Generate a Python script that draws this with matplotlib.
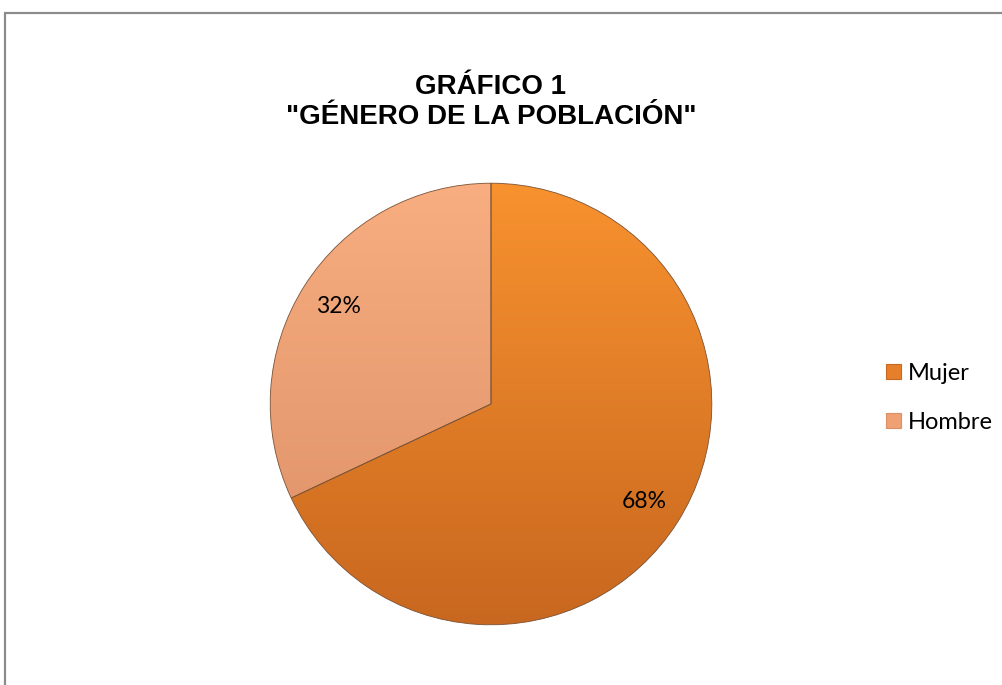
import numpy as np
import matplotlib
matplotlib.use("Agg")
import matplotlib.pyplot as plt
from matplotlib.patches import Rectangle, Patch
from matplotlib.colors import LinearSegmentedColormap

# data
labels = ["Mujer", "Hombre"]
values = [68, 32]
top_colors = ["#F8922F", "#F8AE80"]
bottom_colors = ["#C8671F", "#DC8E66"]
mid_colors = ["#E57F2A", "#EFA173"]

title = 'GRÁFICO 1\n"GÉNERO DE LA POBLACIÓN"'

fig = plt.figure(figsize=(10.03, 6.85), dpi=100)
fig.patch.set_facecolor("white")

# outer frame (continues past right/bottom edge)
fig.add_artist(Rectangle((5 / 1003, -0.05), 1.2, 1 - 13 / 685 + 0.05,
                         transform=fig.transFigure, fill=False,
                         edgecolor="#8c8c8c", lw=1.6))

ax = fig.add_axes([(491 - 223) / 1003, (685 - 627) / 685, 446 / 1003, 446 / 685])
wedges, texts, autotexts = ax.pie(
    values, startangle=90, counterclock=False, colors=mid_colors,
    autopct="%1.0f%%", pctdistance=0.82, radius=1.0,
    wedgeprops=dict(edgecolor="#7a5236", linewidth=0.6),
    textprops=dict(fontsize=16.5, family="Lato", color="black"))

# vertical shading inside each wedge
for w, c_top, c_bot in zip(wedges, top_colors, bottom_colors):
    cmap = LinearSegmentedColormap.from_list("g", [c_bot, c_top])
    grad = np.linspace(0, 1, 256).reshape(-1, 1)
    im = ax.imshow(grad, cmap=cmap, extent=(-1, 1, -1, 1), origin="lower",
                   aspect="auto", zorder=w.get_zorder() - 0.1)
    im.set_clip_path(w)
    w.set_facecolor("none")

ax.set_xlim(-1.01, 1.01)
ax.set_ylim(-1.01, 1.01)
ax.set_aspect("equal")
ax.axis("off")
for t in autotexts:
    t.set_zorder(5)

fig.text(491 / 1003, 1 - 102 / 685, title, ha="center", va="center",
         fontsize=20, fontweight="bold", family="Liberation Sans",
         linespacing=1.15)

handles = [Patch(facecolor=c, edgecolor=b, lw=0.8) for c, b in zip(mid_colors, bottom_colors)]
fig.legend(handles, labels, loc="center left",
           bbox_to_anchor=(877 / 1003, 1 - 398 / 685), frameon=False,
           prop=dict(family="Lato", size=17), handlelength=0.6,
           handleheight=0.6, handletextpad=0.3, labelspacing=1.2,
           borderaxespad=0)

fig.savefig("out.png", dpi=100)
